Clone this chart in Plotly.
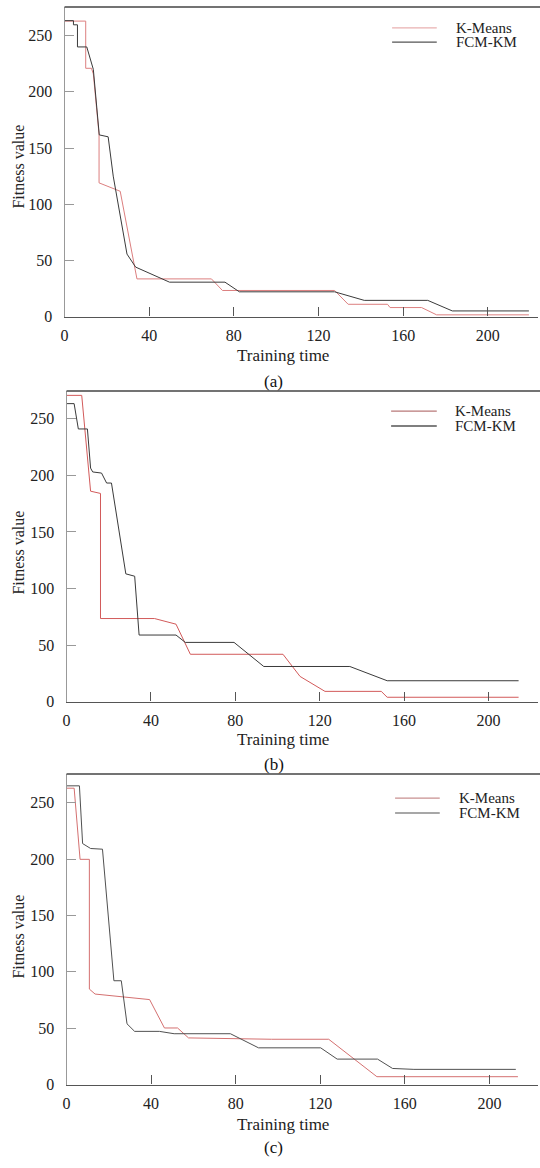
import plotly.graph_objects as go

W, H = 540, 1168
FONT = "Liberation Serif, Times New Roman, serif"

# ---------------- data ----------------
a_km_x = [0, 10, 10, 12.7, 13.6, 16.3, 16.3, 26.3, 34.2, 69.4, 74.6, 127.6, 134, 152.6, 153.8, 168.7, 175.8, 219.4]
a_km_y = [263, 263, 221, 221, 216, 162, 119, 111.5, 33.5, 33.5, 23.2, 23.2, 10.9, 10.9, 8, 8, 1.5, 1.5]
a_fcm_x = [0, 4.2, 4.2, 6.1, 6.1, 10.5, 13.6, 16.4, 20.6, 23, 29.5, 33.6, 49.6, 75.8, 82.6, 127.6, 141.6, 171.6, 183.2, 219.4]
a_fcm_y = [263.4, 263.4, 259.7, 259.7, 240, 240, 220, 161.7, 160, 125, 55.6, 44, 30.6, 30.6, 22, 22, 14.4, 14.4, 5, 5]

b_km_x = [0, 7.2, 11.4, 16.1, 16.1, 41.7, 51.9, 58.7, 102.6, 110.7, 122.5, 149.2, 152, 214.3]
b_km_y = [270.7, 270.7, 186, 184, 73.4, 73.4, 68.4, 41.8, 41.8, 22.2, 9, 9, 3.8, 3.8]
b_fcm_x = [0, 3.6, 5.6, 9.9, 11.4, 12.4, 16.6, 19, 21.3, 28.1, 32.3, 34.4, 51.9, 56.3, 79.4, 93.5, 134.3, 152, 214.3]
b_fcm_y = [263.4, 263.4, 241, 241, 206.4, 203, 202, 193.2, 193.2, 112.9, 110.8, 58.8, 58.8, 52.3, 52.3, 31, 31, 18.4, 18.4]

c_km_x = [0, 3.6, 6.4, 10.8, 10.8, 13.5, 39.3, 46.3, 52.5, 57.7, 97, 124, 146.8, 213.5]
c_km_y = [262.9, 262.9, 199.8, 199.8, 84.7, 80.3, 75.4, 50.2, 50.2, 41.4, 40.2, 40.2, 7, 7]
c_fcm_x = [0, 6.1, 7.6, 11.4, 17, 22.4, 25.9, 28.6, 32.2, 43.9, 50.9, 77.5, 90.8, 120.2, 128, 147.1, 154.2, 164.3, 212.5]
c_fcm_y = [265, 265, 213.8, 209.4, 208.8, 92.1, 92.1, 53.9, 47.2, 47.2, 45.1, 45.1, 32.6, 32.6, 22.6, 22.6, 14.3, 13.5, 13.5]

series_names = ["K-Means", "FCM-KM"]
panel_labels = ["(a)", "(b)", "(c)"]
x_ticks = [0, 40, 80, 120, 160, 200]
y_ticks = [0, 50, 100, 150, 200, 250]
x_title = "Training time"
y_title = "Fitness value"

# ---------------- layout geometry (pixels) ----------------
def fx(p):
    return p / W

def fy(p):
    return 1 - p / H

panels = [
    dict(l=61, r=538, t=7, b=319, ymax=275.6, xmax=223.7,
         km=(a_km_x, a_km_y), fcm=(a_fcm_x, a_fcm_y),
         km_col="#dc7f7f", fcm_col="#3a3a3a",
         leg_km="#e9b0b0", leg_fcm="#555555",
         leg=dict(x0=391, x1=436, y1=28, y2=42.5, tx=453),
         xt_y=358, lab_y=384, yt_y=168),
    dict(l=63, r=538, t=394, b=707, ymax=274.6, xmax=223.5,
         km=(b_km_x, b_km_y), fcm=(b_fcm_x, b_fcm_y),
         km_col="#d25a5a", fcm_col="#3a3a3a",
         leg_km="#b87878", leg_fcm="#555555",
         leg=dict(x0=390, x1=436, y1=414.3, y2=429.3, tx=452),
         xt_y=745, lab_y=770, yt_y=557),
    dict(l=63, r=538, t=780, b=1093, ymax=275.5, xmax=223.0,
         km=(c_km_x, c_km_y), fcm=(c_fcm_x, c_fcm_y),
         km_col="#d47070", fcm_col="#505050",
         leg_km="#c89090", leg_fcm="#8a8a8a",
         leg=dict(x0=394, x1=439, y1=804.3, y2=819.3, tx=456),
         xt_y=1133, lab_y=1156, yt_y=944),
]

fig = go.Figure()
layout = dict(
    width=W, height=H,
    margin=dict(l=0, r=0, t=0, b=0),
    paper_bgcolor="white", plot_bgcolor="white",
    showlegend=False,
    font=dict(family=FONT, size=16, color="#222"),
)
annotations = []
shapes = []

for i, p in enumerate(panels):
    n = "" if i == 0 else str(i + 1)
    xa, ya = "x" + n, "y" + n
    fig.add_trace(go.Scatter(x=p["km"][0], y=p["km"][1], mode="lines", name=series_names[0],
                             line=dict(color=p["km_col"], width=1.0), xaxis=xa, yaxis=ya))
    fig.add_trace(go.Scatter(x=p["fcm"][0], y=p["fcm"][1], mode="lines", name=series_names[1],
                             line=dict(color=p["fcm_col"], width=1.0), xaxis=xa, yaxis=ya))
    layout["xaxis" + n] = dict(
        domain=[fx(p["l"]), fx(p["r"])], anchor=ya, range=[0, p["xmax"]],
        showline=True, linecolor="#555", linewidth=1.2,
        ticks="inside", ticklen=9, tickcolor="#555", tickwidth=1,
        tickvals=x_ticks, showgrid=False, zeroline=False,
        tickfont=dict(family=FONT, size=16, color="#222"), ticklabelstandoff=4,
    )
    layout["yaxis" + n] = dict(
        domain=[fy(p["b"]), fy(p["t"])], anchor=xa, range=[0, p["ymax"]],
        showline=True, linecolor="#999", linewidth=1,
        ticks="inside", ticklen=9, tickcolor="#999", tickwidth=1,
        tickvals=y_ticks, showgrid=False, zeroline=False,
        tickfont=dict(family=FONT, size=16, color="#222"), ticklabelstandoff=8,
    )
    shapes.append(dict(type="line", xref="paper", yref="paper",
                       x0=fx(p["l"]), x1=1, y0=fy(p["t"]), y1=fy(p["t"]),
                       line=dict(color="#444", width=1.5)))
    lg = p["leg"]
    for yy, col, nm in [(lg["y1"], p["leg_km"], series_names[0]), (lg["y2"], p["leg_fcm"], series_names[1])]:
        shapes.append(dict(type="line", xref="paper", yref="paper",
                           x0=fx(lg["x0"]), x1=fx(lg["x1"]), y0=fy(yy), y1=fy(yy),
                           line=dict(color=col, width=1.3)))
        annotations.append(dict(text=nm, xref="paper", yref="paper", x=fx(lg["tx"]), y=fy(yy),
                                xanchor="left", yanchor="middle", showarrow=False,
                                font=dict(family=FONT, size=15, color="#222")))
    annotations.append(dict(text=x_title, xref="paper", yref="paper", x=fx(281), y=fy(p["xt_y"]),
                            xanchor="center", yanchor="middle", showarrow=False,
                            font=dict(family=FONT, size=17, color="#222")))
    annotations.append(dict(text=y_title, xref="paper", yref="paper", x=fx(15), y=fy(p["yt_y"]),
                            xanchor="center", yanchor="middle", showarrow=False, textangle=-90,
                            font=dict(family=FONT, size=16, color="#222")))
    annotations.append(dict(text=panel_labels[i], xref="paper", yref="paper", x=fx(272), y=fy(p["lab_y"]),
                            xanchor="center", yanchor="middle", showarrow=False,
                            font=dict(family=FONT, size=17, color="#111")))

layout["annotations"] = annotations
layout["shapes"] = shapes
fig.update_layout(**layout)
fig.write_html("out.html")
